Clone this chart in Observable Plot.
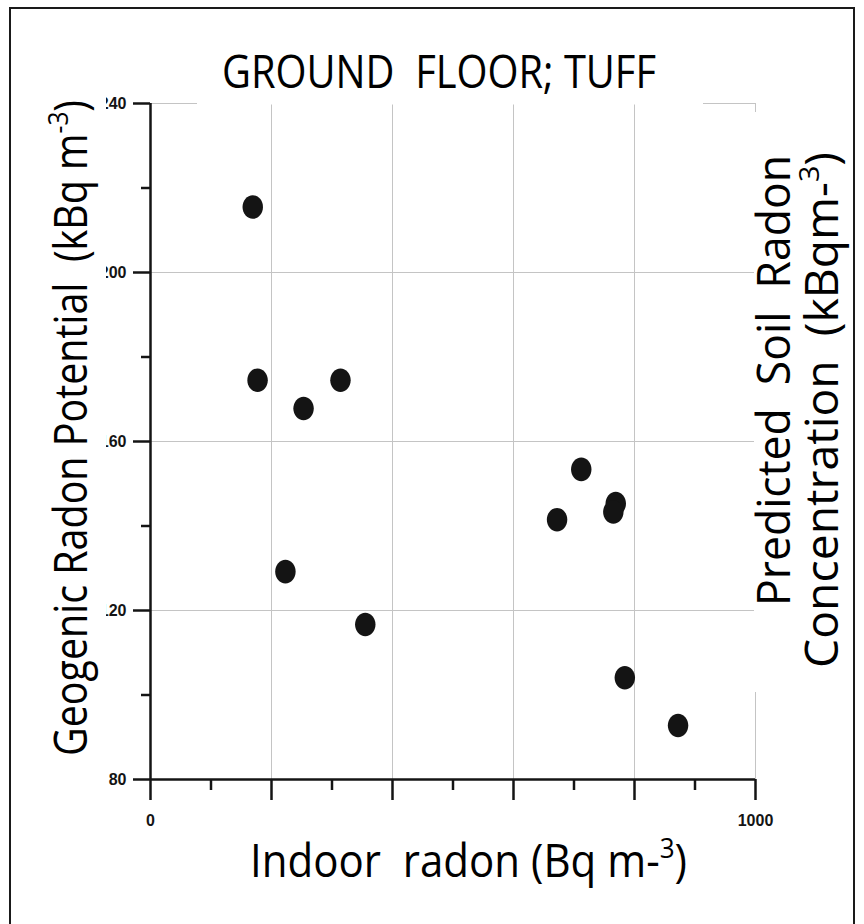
<!DOCTYPE html>
<html>
<head>
<meta charset="utf-8">
<script src="https://cdn.jsdelivr.net/npm/d3@7"></script>
<script src="https://cdn.jsdelivr.net/npm/@observablehq/plot@0.6"></script>
<style>
  html, body { margin: 0; padding: 0; background: #fff; }
  #wrap { position: relative; width: 864px; height: 924px; overflow: hidden; }
  #frame { position: absolute; left: 9px; top: 7px; width: 846px; height: 940px;
           border: 2px solid #1a1a1a; box-sizing: border-box; pointer-events: none; }
  #wrap svg { position: absolute; left: 0; top: 0; }
</style>
</head>
<body>
<div id="wrap"><div id="frame"></div></div>
<script>
// Indoor radon (Bq m-3) against geogenic radon potential (kBq m-3), ground floor dwellings on tuff
const indoorRadon = [169, 177, 314, 253, 223, 355, 672, 712, 769, 765, 784, 872];
const radonPotential = [215.5, 174.5, 174.5, 167.8, 129.2, 116.7, 141.5, 153.4, 145.3, 143.3, 104.1, 92.8];

const xMajor = [0, 200, 400, 600, 800, 1000];
const xMinor = [100, 300, 500, 700, 900];
const xLabeled = [0, 1000];
const xGrid = [200, 400, 600, 800, 1000];
const yMajor = [80, 120, 160, 200, 240];
const yMinor = [100, 140, 180, 220];
const yGrid = [120, 160, 200, 240];

const points = indoorRadon.map((x, i) => ({x, y: radonPotential[i]}));

// slightly tall ellipse used as the dot shape
const ellipse = {
  draw(ctx, size) {
    const r = Math.sqrt(size / Math.PI), a = r * 0.93, b = r * 1.07, k = 0.5523;
    ctx.moveTo(a, 0);
    ctx.bezierCurveTo(a, b * k, a * k, b, 0, b);
    ctx.bezierCurveTo(-a * k, b, -a, b * k, -a, 0);
    ctx.bezierCurveTo(-a, -b * k, -a * k, -b, 0, -b);
    ctx.bezierCurveTo(a * k, -b, a, -b * k, a, 0);
    ctx.closePath();
  }
};

const ink = "#141414";
const gridColor = "#c4c4c4";
const tickFont = {fontFamily: "Liberation Sans, Arial, sans-serif", fontSize: 16, fontWeight: "bold"};

const chart = Plot.plot({
  width: 864,
  height: 924,
  marginLeft: 150,
  marginRight: 109,
  marginTop: 103,
  marginBottom: 145,
  style: {background: "transparent", color: ink},
  x: {domain: [0, 1000]},
  y: {domain: [80, 240]},
  marks: [
    Plot.gridX(xGrid, {stroke: gridColor, strokeOpacity: 1, strokeWidth: 1}),
    Plot.gridY(yGrid, {stroke: gridColor, strokeOpacity: 1, strokeWidth: 1}),
    Plot.axisY({ticks: yMajor, tickSize: 17, tickPadding: 7, strokeWidth: 2.5, stroke: ink, fill: ink, label: null, ...tickFont}),
    Plot.axisY({ticks: yMinor, tickSize: 9, strokeWidth: 2.5, stroke: ink, tickFormat: () => "", label: null}),
    Plot.axisX({ticks: xMajor, tickSize: 21, tickPadding: 14, strokeWidth: 2.5, stroke: ink, fill: ink, label: null,
                tickFormat: d => xLabeled.includes(d) ? String(d) : "", ...tickFont}),
    Plot.axisX({ticks: xMinor, tickSize: 11, strokeWidth: 2.5, stroke: ink, tickFormat: () => "", label: null}),
    Plot.ruleX([0], {stroke: ink, strokeWidth: 2.5}),
    Plot.ruleY([80], {stroke: ink, strokeWidth: 2.5}),
    Plot.dot(points, {x: "x", y: "y", r: 11, fill: ink, stroke: "none", symbol: ellipse})
  ]
});

document.getElementById("wrap").insertBefore(chart, document.getElementById("frame"));

// titles drawn on top of the plot, each on a white panel
const svg = d3.select(chart);
const g = svg.append("g")
  .attr("font-family", "'Open Sans', sans-serif")
  .attr("font-weight", "normal")
  .attr("text-anchor", "start")
  .attr("fill", "#000")
  .style("white-space", "pre");

function panel(x, y, w, h) {
  g.append("rect").attr("x", x).attr("y", y).attr("width", w).attr("height", h).attr("fill", "#fff");
}
function label(parts, {x, y, size, length, rotate = 0}) {
  const t = g.append("text")
    .attr("font-size", size)
    .attr("textLength", length)
    .attr("lengthAdjust", "spacingAndGlyphs")
    .attr("transform", `translate(${x},${y}) rotate(${rotate})`);
  for (const p of parts) {
    const s = t.append("tspan").text(p.t);
    if (p.sup) s.attr("baseline-shift", "super").attr("font-size", size * 0.62);
  }
  return t;
}

panel(197, 34, 506, 70.5);
label([{t: "GROUND  FLOOR; TUFF"}], {x: 222, y: 88, size: 46, length: 434});

label([{t: "Indoor  radon (Bq m-"}, {t: "3", sup: true}, {t: ")"}], {x: 250, y: 877, size: 45, length: 437});

panel(36, 92, 70, 676);
label([{t: "Geogenic Radon Potential  (kBq m"}, {t: "-3", sup: true}, {t: ")"}],
      {x: 87, y: 756, size: 45, length: 656, rotate: -90});

panel(754, 112, 98, 580);
label([{t: "Predicted  Soil  Radon"}], {x: 790, y: 606, size: 45, length: 451, rotate: -90});
label([{t: "Concentration  (kBqm-"}, {t: "3", sup: true}, {t: ")"}],
      {x: 838, y: 668, size: 45, length: 516, rotate: -90});
</script>
</body>
</html>
